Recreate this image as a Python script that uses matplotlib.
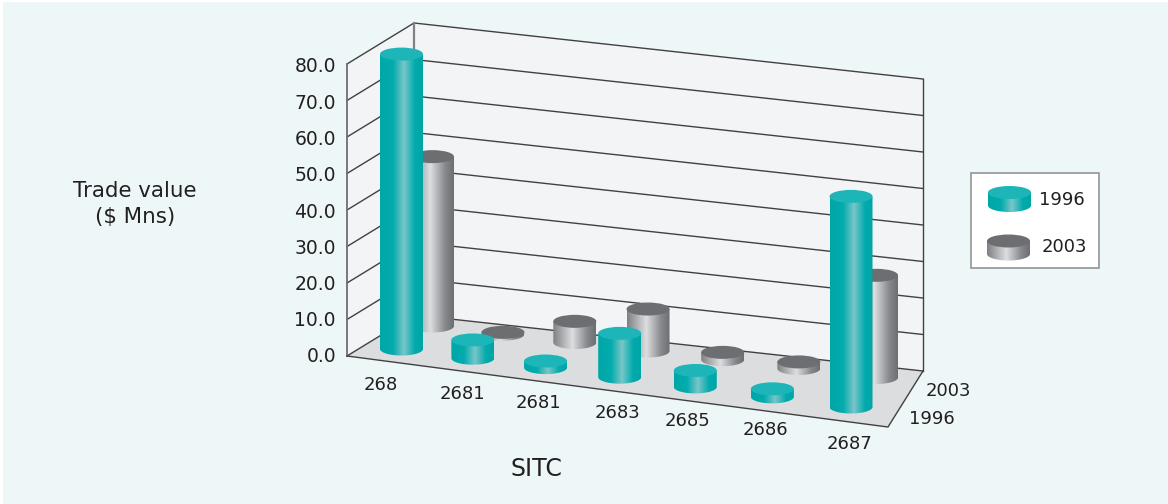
import numpy as np
import matplotlib
matplotlib.use("Agg")
import matplotlib.pyplot as plt
from matplotlib.colors import LinearSegmentedColormap
from matplotlib.patches import Ellipse, Polygon, Rectangle

categories = ["268", "2681", "2681", "2683", "2685", "2686", "2687"]
series_names = ["1996", "2003"]
values_1996 = [80.8, 5.0, 1.8, 12.0, 4.5, 2.2, 57.7]
values_2003 = [46.4, 0.5, 5.8, 11.5, 2.0, 1.8, 28.0]
y_ticks = [0, 10, 20, 30, 40, 50, 60, 70, 80]

BG = "#eef7f8"
WALL = "#f2f4f6"
FLOOR = "#dcddde"
LINE = "#414042"
TEXT = "#231f20"

teal_map = LinearSegmentedColormap.from_list(
    "teal", [(0, "#00a7a8"), (0.3, "#02abad"), (0.56, "#78c6c9"), (0.82, "#00abad"), (1, "#00a5a6")])
grey_map = LinearSegmentedColormap.from_list(
    "grey", [(0, "#7f8083"), (0.45, "#dddee0"), (0.8, "#87888b"), (1, "#6d6e71")])
TEAL_TOP = "#1eb5b9"
GREY_TOP = "#6d6e71"

# floor outline in figure pixels: front left, front right, back right, back left
corners = [(347, 356), (888, 427), (923, 371), (414, 315)]
# where the first and last cylinder of each row stand
row_ends = {"front": ((401.5, 349), (851, 407)), "back": ((432.5, 326), (876.5, 377.5))}
PX_PER_UNIT = 292 / 80
RX, RY = 21.5, 6.5
PERSPECTIVE = 1.06


def project(i, n, row):
    # slots get a bit wider towards the right, the chart is drawn in perspective
    t = i / (n - 1)
    t = t / (t + (1 - t) * PERSPECTIVE)
    (x0, y0), (x1, y1) = row_ends[row]
    return x0 + (x1 - x0) * t, y0 + (y1 - y0) * t


def cylinder(ax, cx, base_y, top_y, cmap, top_color, z):
    t = np.linspace(0, np.pi, 60)
    body = [(cx - RX, top_y)]
    body += [(cx - RX * np.cos(a), base_y + RY * np.sin(a)) for a in t]
    body += [(cx + RX, top_y)]
    shape = Polygon(body, closed=True, fc="none", ec="none", zorder=z)
    ax.add_patch(shape)
    img = ax.imshow(np.linspace(0, 1, 128)[None, :], cmap=cmap, aspect="auto", zorder=z,
                    extent=(cx - RX, cx + RX, base_y + RY + 1, top_y - 1), interpolation="bilinear")
    img.set_clip_path(shape)
    ax.add_patch(Ellipse((cx, top_y), 2 * RX, 2 * RY, fc=top_color, ec="none", zorder=z + 0.1))


fig = plt.figure(figsize=(11.68, 5.04), dpi=100, facecolor="white")
ax = fig.add_axes([0, 0, 1, 1])
ax.axis("off")
ax.add_patch(Rectangle((3, 2), 1165, 502, fc=BG, ec="none", zorder=0))

fl, fr, br, bl = corners
top = 80 * PX_PER_UNIT
ax.add_patch(Polygon([fl, bl, (bl[0], bl[1] - top), (fl[0], fl[1] - top)], fc=WALL, ec="none", zorder=1))
ax.add_patch(Polygon([bl, br, (br[0], br[1] - top), (bl[0], bl[1] - top)], fc=WALL, ec="none", zorder=1))
ax.add_patch(Polygon([fl, fr, br, bl], fc=FLOOR, ec="none", zorder=1))

for tick in y_ticks:
    dy = tick * PX_PER_UNIT
    ax.plot([fl[0], bl[0], br[0]], [fl[1] - dy, bl[1] - dy, br[1] - dy], color=LINE, lw=1.0, zorder=2)
    ax.text(336, 357 - tick * 3.625, f"{tick:.1f}", ha="right", va="center", fontsize=13.5, color=TEXT, zorder=6)
ax.plot([fl[0], fl[0]], [fl[1], fl[1] - top], color="#6d6e71", lw=1.3, zorder=2)
ax.plot([bl[0], bl[0]], [bl[1], bl[1] - top], color="#808285", lw=1.6, zorder=2)
ax.plot([br[0], br[0]], [br[1], br[1] - top], color=LINE, lw=1.0, zorder=2)
ax.plot([fl[0], fr[0], br[0]], [fl[1], fr[1], br[1]], color=LINE, lw=1.0, zorder=2)

# back row first so the 1996 cylinders sit in front
for k, (vals, row, cmap, top_c) in enumerate([(values_2003, "back", grey_map, GREY_TOP),
                                               (values_1996, "front", teal_map, TEAL_TOP)]):
    for i, val in enumerate(vals):
        x, base_y = project(i, len(vals), row)
        cylinder(ax, x, base_y, base_y - val * PX_PER_UNIT, cmap, top_c, 3 + k + i * 0.01)

label_pos = [(381, 385), (462.5, 394), (538, 403), (617, 413), (687, 421), (765, 430), (850, 444)]
for name, (x, y) in zip(categories, label_pos):
    ax.text(x, y, name, ha="center", va="center", fontsize=13, color=TEXT, zorder=6)
ax.text(948, 391, series_names[1], ha="center", va="center", fontsize=13, color=TEXT)
ax.text(932, 419, series_names[0], ha="center", va="center", fontsize=13, color=TEXT)

ax.text(135, 191, "Trade value", ha="center", va="center", fontsize=15.4, color=TEXT)
ax.text(135, 217, "($ Mns)", ha="center", va="center", fontsize=15.4, color=TEXT)
ax.text(536, 469, "SITC", ha="center", va="center", fontsize=17, color=TEXT)

# legend
ax.add_patch(Rectangle((971, 172.5), 128, 95.5, fc="white", ec="#939598", lw=1.2, zorder=7))
cylinder(ax, 1009.5, 205.5, 192.5, teal_map, TEAL_TOP, 8)
cylinder(ax, 1008.5, 254, 241, grey_map, GREY_TOP, 8)
ax.text(1062, 200, series_names[0], ha="center", va="center", fontsize=13, color=TEXT, zorder=9)
ax.text(1064, 247, series_names[1], ha="center", va="center", fontsize=13, color=TEXT, zorder=9)

ax.set_xlim(0, 1168)
ax.set_ylim(504, 0)
fig.savefig("out.png", dpi=100)
